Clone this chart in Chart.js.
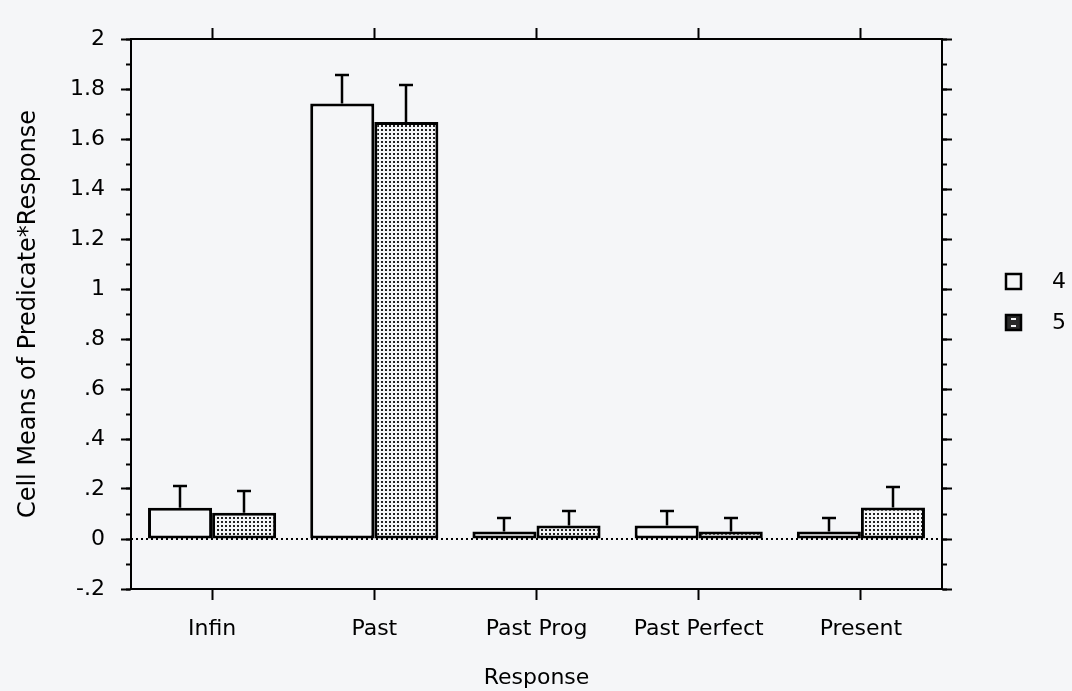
<!DOCTYPE html>
<html>
<head>
<meta charset="utf-8">
<script src="https://cdn.jsdelivr.net/npm/chart.js@4.4.0/dist/chart.umd.min.js"></script>
<style>
  html, body { margin: 0; padding: 0; background: #f5f6f8; }
  #wrap { width: 1072px; height: 691px; }
</style>
</head>
<body>
<div id="wrap"><canvas id="chart"></canvas></div>
<script>
// Data
const categories = ['Infin', 'Past', 'Past Prog', 'Past Perfect', 'Present'];
const seriesNames = ['4', '5'];
const means4 = [0.125, 1.742, 0.03, 0.054, 0.03];
const means5 = [0.105, 1.668, 0.054, 0.03, 0.126];
const errors4 = [0.086, 0.115, 0.054, 0.059, 0.054];
const errors5 = [0.086, 0.148, 0.059, 0.054, 0.084];
const yMin = -0.2;
const yMax = 2;
const yMajorStep = 0.2;
const yMinorStep = 0.1;
const yTitle = 'Cell Means of Predicate*Response';
const xTitle = 'Response';

const BG = '#f5f6f8';
const INK = '#000';

// dotted fill for series 5
function makePattern() {
    const c = document.createElement('canvas');
    c.width = 4;
    c.height = 4;
    const p = c.getContext('2d');
    p.fillStyle = BG;
    p.fillRect(0, 0, 4, 4);
    p.fillStyle = '#222';
    p.fillRect(1, 1, 2, 2);
    return p.createPattern(c, 'repeat');
}
const dots = makePattern();

// ".8" style labels
function fmtTick(v) {
    const s = (Math.round(v * 10) / 10).toString();
    return s.replace(/^0\./, '.').replace(/^-0\./, '-.');
}

const bgPlugin = {
    id: 'bg',
    beforeDraw(chart) {
        const c = chart.ctx;
        c.save();
        c.fillStyle = BG;
        c.fillRect(0, 0, chart.width, chart.height);
        c.restore();
    }
};

const zeroLine = {
    id: 'zeroLine',
    beforeDatasetsDraw(chart) {
        const c = chart.ctx;
        const a = chart.chartArea;
        const y0 = chart.scales.y.getPixelForValue(0);
        c.save();
        c.strokeStyle = INK;
        c.lineWidth = 2;
        c.setLineDash([2, 3]);
        c.beginPath();
        c.moveTo(a.left, y0);
        c.lineTo(a.right, y0);
        c.stroke();
        c.restore();
    }
};

const errorBars = {
    id: 'errorBars',
    afterDatasetsDraw(chart) {
        const c = chart.ctx;
        const ys = chart.scales.y;
        const errs = [errors4, errors5];
        c.save();
        c.strokeStyle = INK;
        c.lineWidth = 2.5;
        chart.data.datasets.forEach((ds, i) => {
            const meta = chart.getDatasetMeta(i);
            meta.data.forEach((bar, j) => {
                const top = Math.round(ys.getPixelForValue(ds.data[j] + errs[i][j]));
                const x = Math.round(bar.x);
                c.beginPath();
                c.moveTo(x, bar.y);
                c.lineTo(x, top);
                c.moveTo(x - 7, top);
                c.lineTo(x + 7, top);
                c.stroke();
            });
        });
        c.restore();
    }
};

const sideLegend = {
    id: 'sideLegend',
    afterDraw(chart) {
        const c = chart.ctx;
        const a = chart.chartArea;
        const fills = [BG, '#2a2a2a'];
        c.save();
        c.font = '22px "DejaVu Sans"';
        c.textBaseline = 'middle';
        chart.data.datasets.forEach((ds, i) => {
            const bx = a.right + 64;
            const cy = 281 + i * 41;
            c.fillStyle = fills[i];
            c.fillRect(bx, cy - 7, 15, 15);
            c.strokeStyle = INK;
            c.lineWidth = 2.5;
            c.strokeRect(bx, cy - 7, 15, 15);
            if (i === 1) {
                c.fillStyle = BG;
                c.fillRect(bx + 5, cy - 4, 5, 2);
                c.fillRect(bx + 5, cy + 3, 5, 2);
            }
            c.fillStyle = INK;
            c.fillText(ds.label, bx + 46, cy + 1);
        });
        c.restore();
    }
};

Chart.defaults.font.family = '"DejaVu Sans", Verdana, sans-serif';
Chart.defaults.font.size = 22;
Chart.defaults.color = INK;

const tickGrid = (len) => ({
    drawOnChartArea: false,
    drawTicks: true,
    tickLength: len,
    tickWidth: 2,
    tickColor: INK
});

new Chart(document.getElementById('chart'), {
    type: 'bar',
    data: {
        labels: categories,
        datasets: [
            {
                label: seriesNames[0],
                data: means4,
                backgroundColor: BG,
                borderColor: INK,
                borderWidth: 3,
                borderSkipped: false
            },
            {
                label: seriesNames[1],
                data: means5,
                backgroundColor: dots,
                borderColor: INK,
                borderWidth: 3,
                borderSkipped: false
            }
        ]
    },
    options: {
        responsive: true,
        maintainAspectRatio: false,
        animation: false,
        events: [],
        categoryPercentage: 0.79,
        barPercentage: 1.0,
        layout: { padding: 0 },
        plugins: {
            legend: { display: false },
            tooltip: { enabled: false }
        },
        scales: {
            x: {
                type: 'category',
                position: 'bottom',
                offset: true,
                grid: Object.assign(tickGrid(11), { offset: false }),
                border: { color: INK, width: 2 },
                ticks: { padding: 16, color: INK, maxRotation: 0, autoSkip: false },
                title: { display: true, text: xTitle, color: INK, padding: { top: 0, bottom: 0 } },
                afterFit: s => { s.height = 102; }
            },
            xTop: {
                type: 'category',
                position: 'top',
                offset: true,
                grid: Object.assign(tickGrid(11), { offset: false }),
                border: { color: INK, width: 2 },
                ticks: { display: false },
                afterFit: s => { s.height = 39; }
            },
            y: {
                position: 'left',
                min: yMin,
                max: yMax,
                weight: 1,
                grid: tickGrid(10),
                border: { color: INK, width: 2 },
                ticks: { stepSize: yMajorStep, callback: fmtTick, padding: 16, color: INK, autoSkip: false },
                title: { display: true, text: yTitle, color: INK, font: { size: 24 }, padding: { top: 14 } },
                afterFit: s => { s.width = 131; }
            },
            yMinor: {
                position: 'left',
                min: yMin,
                max: yMax,
                weight: 0,
                grid: tickGrid(5),
                border: { display: false },
                ticks: { stepSize: yMinorStep, display: false, maxTicksLimit: 100 },
                afterFit: s => { s.width = 0; }
            },
            yRight: {
                position: 'right',
                min: yMin,
                max: yMax,
                weight: 1,
                grid: tickGrid(10),
                border: { color: INK, width: 2 },
                ticks: { stepSize: yMajorStep, display: false },
                afterFit: s => { s.width = 130; }
            },
            yRightMinor: {
                position: 'right',
                min: yMin,
                max: yMax,
                weight: 0,
                grid: tickGrid(5),
                border: { display: false },
                ticks: { stepSize: yMinorStep, display: false, maxTicksLimit: 100 },
                afterFit: s => { s.width = 0; }
            }
        }
    },
    plugins: [bgPlugin, zeroLine, errorBars, sideLegend]
});
</script>
</body>
</html>
